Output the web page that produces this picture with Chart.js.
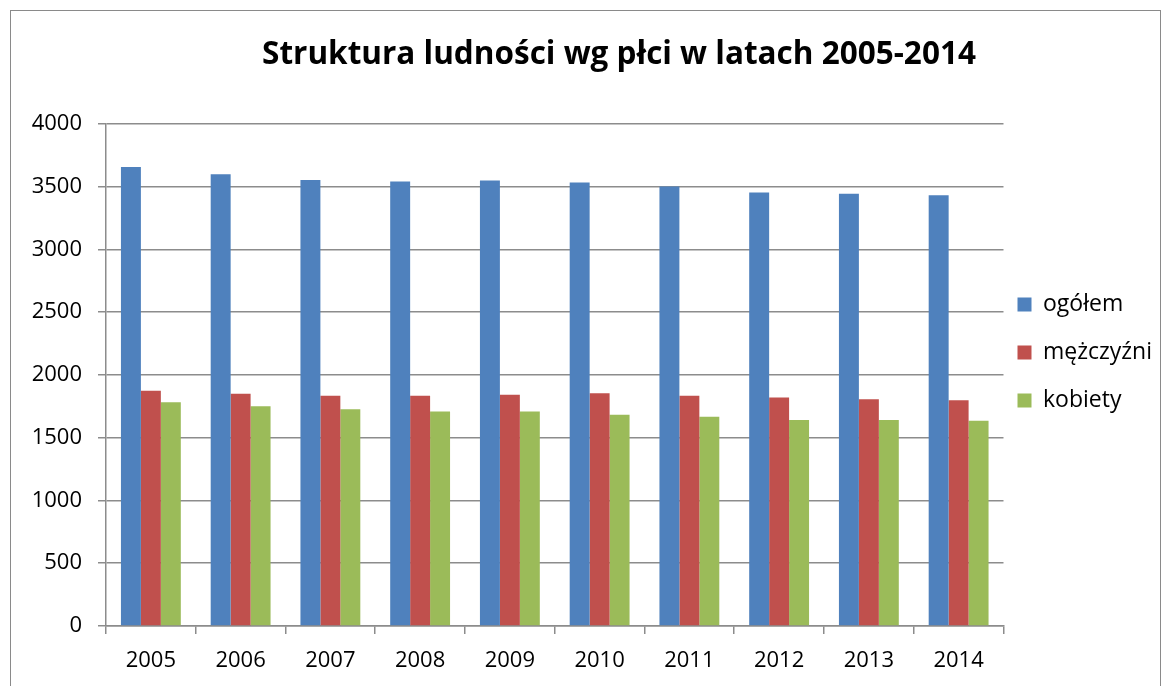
<!DOCTYPE html>
<html>
<head>
<meta charset="utf-8">
<script src="https://cdn.jsdelivr.net/npm/chart.js@4/dist/chart.umd.min.js"></script>
<style>
  body { margin: 0; background: #fff; }
  #wrap { position: absolute; left: 0; top: 0; width: 1162px; height: 686px; }
  #frame { position: absolute; left: 10px; top: 10px; width: 1149px; height: 690px; border: 1px solid #8a8a8a; }
</style>
</head>
<body>
<div id="wrap">
  <div id="frame"></div>
  <canvas id="chart" width="1162" height="686"></canvas>
</div>
<script>
// years on the x axis
const years = ['2005', '2006', '2007', '2008', '2009', '2010', '2011', '2012', '2013', '2014'];

// values
const ogolem = [3656, 3598, 3553, 3540, 3548, 3532, 3500, 3452, 3442, 3431];
const mezczyzni = [1873, 1849, 1833, 1833, 1841, 1854, 1833, 1820, 1807, 1799];
const kobiety = [1783, 1751, 1727, 1709, 1709, 1683, 1667, 1640, 1640, 1635];

const FONT = 'Open Sans';
const gridGray = '#8c8c8c';

// nudges: title sits right of centre, legend is a bit narrower than chart.js makes it
const titleShift = 76;
const legendTrim = 11;

const nudge = {
    id: 'nudge',
    beforeLayout(chart) {
        const lg = chart.legend;
        if (lg && !lg._patched) {
            const fit = lg.fit;
            lg.fit = function() { fit.call(this); this.width -= legendTrim; };
            lg._patched = true;
        }
    },
    afterLayout(chart) {
        chart.titleBlock.left += titleShift;
        // move the legend back left but keep its right edge, so no text gets cut
        chart.legend.left -= legendTrim;
        chart.legend.width += legendTrim;
    }
};

const canvas = document.getElementById('chart');

let chart = new Chart(canvas, {
    type: 'bar',
    data: {
        labels: years,
        datasets: [
            { label: 'ogółem', data: ogolem, backgroundColor: '#4F81BD' },
            { label: 'mężczyźni', data: mezczyzni, backgroundColor: '#C0504D' },
            { label: 'kobiety', data: kobiety, backgroundColor: '#9BBB59' }
        ]
    },
    options: {
        responsive: false,
        animation: false,
        layout: { padding: { top: 19, right: 0, bottom: 0, left: 0 } },
        datasets: {
            bar: { categoryPercentage: 0.667, barPercentage: 1.0 }
        },
        plugins: {
            title: {
                display: true,
                text: 'Struktura ludności wg płci w latach 2005-2014',
                color: '#000',
                font: { family: FONT, size: 31.5, weight: 'bold' },
                padding: { top: 17, bottom: 50 }
            },
            legend: {
                position: 'right',
                labels: {
                    color: '#000',
                    font: { family: FONT, size: 23 },
                    boxWidth: 14,
                    boxHeight: 14,
                    padding: 25
                }
            },
            tooltip: { enabled: false }
        },
        scales: {
            x: {
                grid: {
                    offset: true,
                    drawOnChartArea: false,
                    drawTicks: true,
                    tickLength: 8,
                    color: gridGray,
                    lineWidth: 1.5
                },
                border: { color: gridGray, width: 1.5 },
                ticks: { color: '#000', font: { family: FONT, size: 22 }, padding: 14 },
                afterFit: function(scale) { scale.height = 60; }
            },
            y: {
                min: 0,
                max: 4000,
                ticks: {
                    stepSize: 500,
                    color: '#000',
                    font: { family: FONT, size: 22 },
                    padding: 16,
                    callback: function(v) { return String(v); }
                },
                grid: { color: gridGray, lineWidth: 1.5, tickLength: 8 },
                border: { color: gridGray, width: 1.5 },
                afterFit: function(scale) { scale.width = 106; }
            }
        }
    },
    plugins: [nudge]
});
</script>
</body>
</html>
